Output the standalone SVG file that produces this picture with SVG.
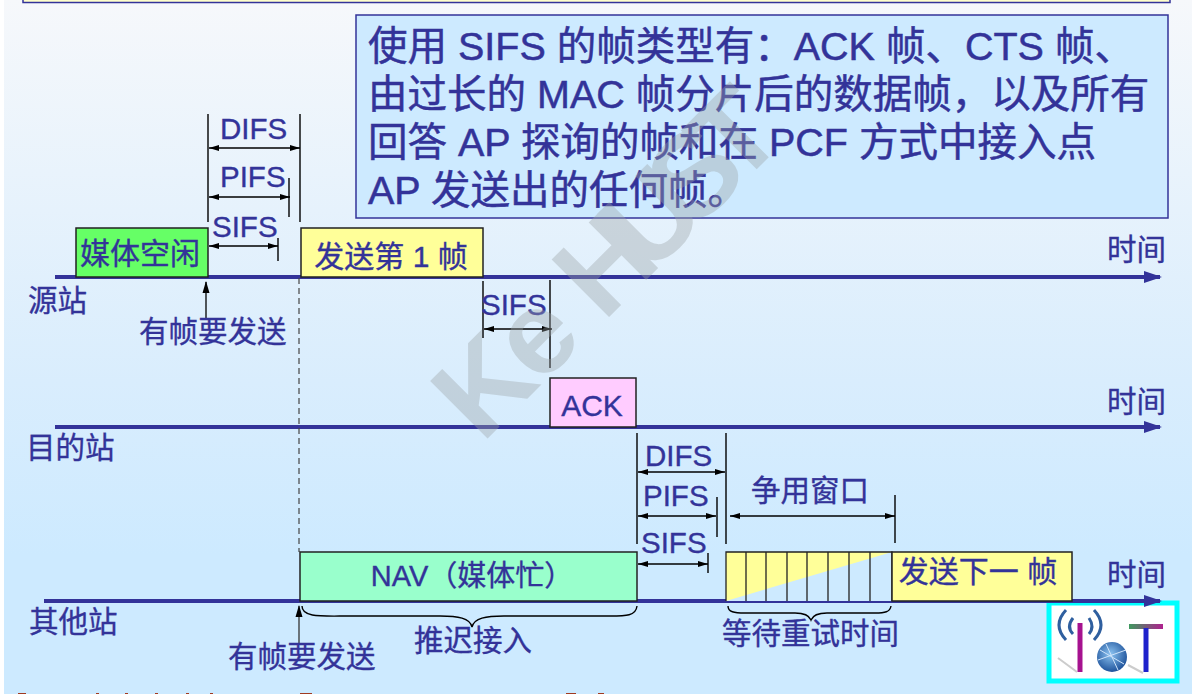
<svg xmlns="http://www.w3.org/2000/svg" width="1192" height="694" viewBox="0 0 1192 694">
<defs>
<linearGradient id="bg" x1="0" y1="0" x2="0" y2="1"><stop offset="0" stop-color="#f6f8fb"/><stop offset="0.55" stop-color="#d9edfd"/><stop offset="0.8" stop-color="#cdeaff"/><stop offset="1" stop-color="#cdeaff"/></linearGradient>
<radialGradient id="globe" cx="0.45" cy="0.4" r="0.65"><stop offset="0" stop-color="#8cc4f2"/><stop offset="1" stop-color="#164a94"/></radialGradient>
<linearGradient id="tbar" x1="0" y1="0" x2="1" y2="0"><stop offset="0" stop-color="#3f9a5f"/><stop offset="1" stop-color="#b0208f"/></linearGradient>
<marker id="ah" viewBox="0 0 10 6" refX="10" refY="3" markerWidth="10" markerHeight="6" markerUnits="userSpaceOnUse" orient="auto-start-reverse"><path d="M0 0L10 3L0 6z" fill="#000"/></marker>
<marker id="ta" viewBox="0 0 18 12" refX="16" refY="6" markerWidth="18" markerHeight="12" markerUnits="userSpaceOnUse" orient="auto"><path d="M0 0L18 6L0 12z" fill="#333399"/></marker>
</defs>
<style>
text{font-family:"Liberation Sans","Noto Sans CJK SC",sans-serif;fill:#333399;font-size:29.500px;stroke:#333399;stroke-width:.35px}
.s{font-size:30px;text-anchor:middle}
.big{font-size:39.500px;stroke-width:.5px}
.axis{stroke:#333399;stroke-width:4;fill:none}
.t{stroke:#000;stroke-width:1.400;fill:none}
.d{stroke:#000;stroke-width:1.300;fill:none;marker-start:url(#ah);marker-end:url(#ah)}
.box{stroke:#222;stroke-width:1.500}
</style>
<rect width="1192" height="694" fill="url(#bg)"/>
<rect x="0" y="0" width="4" height="694" fill="#ffffff"/>
<rect x="23" y="-8" width="1147" height="10.500" fill="#ffffcc" stroke="#333399" stroke-width="1.500"/>
<path d="M18 693.500H26M96 693.500H99M125 693.500H128M155 693.500H158M186 693.500H189M210 693.500H213M300 693.500H312M566 693.500H576M598 693.500H604" stroke="#a03a20" stroke-width="1" fill="none"/>

<g id="note">
<rect x="356" y="15" width="812" height="203" fill="#cdeaff" stroke="#333399" stroke-width="1.500"/>
<text class="big" x="368" y="60">使用 SIFS 的帧类型有：ACK 帧、CTS 帧、</text>
<text class="big" x="368" y="108">由过长的 MAC 帧分片后的数据帧，以及所有</text>
<text class="big" x="368" y="156">回答 AP 探询的帧和在 PCF 方式中接入点</text>
<text class="big" x="368" y="204">AP 发送出的任何帧。</text>
</g>

<g id="logo">
<rect x="1049" y="603" width="128" height="78" fill="#fff" stroke="#00ffff" stroke-width="5"/>
<path d="M1058 658L1077 672M1128 665L1143 673" stroke="#ccc" stroke-width="2" fill="none"/>
<path d="M1080 623V672" stroke="#a6128f" stroke-width="5"/>
<path d="M1066 610Q1052 625 1066 640M1073 618Q1066 627 1073 634M1094 610Q1108 625 1094 640M1089 618Q1095 627 1089 634" stroke="#2f5f9f" stroke-width="3" fill="none"/>
<circle cx="1112" cy="657" r="15" fill="url(#globe)"/>
<path d="M1100 650L1124 664M1106 644L1118 670M1098 660L1126 650" stroke="#cfe4fa" stroke-width="1" fill="none"/>
<rect x="1129" y="624" width="34" height="5" fill="url(#tbar)"/>
<path d="M1146 628V672" stroke="#1f22cc" stroke-width="5"/>
</g>

<g id="connectors">
<path class="axis" marker-end="url(#ta)" d="M55 277H1160"/>
<path class="axis" marker-end="url(#ta)" d="M55 427H1160"/>
<path class="axis" marker-end="url(#ta)" d="M44 601H1160"/>
<path d="M299 278V552" stroke="#444" stroke-width="1.200" stroke-dasharray="6 4" fill="none"/>
<path class="t" d="M208 114V222M300 114V222M289 178V217M278 238V261"/>
<path class="d" d="M209 148H300"/>
<path class="d" d="M209 197H290"/>
<path class="d" d="M209 246H278"/>
<path class="t" d="M483 281V338M550 280V368"/>
<path class="d" d="M484 329H552"/>
<path class="t" d="M637 433V544M726 433V544M717 497V537M708 553V573M895 495V543"/>
<path class="d" d="M638 472H725"/>
<path class="d" d="M638 516H716"/>
<path class="d" d="M638 564H708"/>
<path class="d" d="M730 516H895"/>
<path d="M206 318V282" stroke="#000" stroke-width="1.300" fill="none"/><path d="M206 281l-3.500 12h7z" fill="#000"/>
<path d="M299 644V606" stroke="#333" stroke-width="1.300" fill="none"/><path d="M299 605l-3.500 12h7z" fill="#000"/>
<path class="t" d="M302 606C302 618 322 616 350 616H440C458 616 470 618 472 627C474 618 486 616 504 616H610C626 616 636 616 637 606"/>
<path class="t" d="M728 606C728 612 734 613 745 613H795C804 613 809 615 811 620C813 615 818 613 827 613H875C885 613 890 612 891 606"/>
</g>

<g id="frame-idle"><rect class="box" x="76" y="228" width="132" height="49" fill="#66ff66"/><text class="s" x="140" y="264">媒体空闲</text></g>
<g id="frame-first"><rect class="box" x="301" y="228" width="182" height="49" fill="#ffff99"/><text class="s" x="391" y="267">发送第 1 帧</text></g>
<g id="frame-ack"><rect class="box" x="550" y="378" width="86" height="49" fill="#ffccff"/><text class="s" x="592" y="416">ACK</text></g>
<g id="frame-nav"><rect class="box" x="300" y="552" width="337" height="49" fill="#99ffcc"/><text class="s" x="472" y="586" style="font-size:29px">NAV（媒体忙）</text></g>
<g id="frame-window">
<rect x="726" y="552" width="166" height="49" fill="#cdeaff"/>
<path d="M726 601V552H892z" fill="#ffff99"/>
<path d="M726 601V552H892V601M746 552V601M766 552V601M787 552V601M807 552V601M828 552V601M849 552V601M870 552V601" stroke="#222" stroke-width="1.300" fill="none"/>
</g>
<g id="frame-next"><rect class="box" x="892" y="552" width="180" height="49" fill="#ffff99"/><text class="s" x="978" y="582">发送下一 帧</text></g>

<g id="labels">
<text x="1107" y="260">时间</text>
<text x="1107" y="412">时间</text>
<text x="1107" y="585">时间</text>
<text x="28" y="311">源站</text>
<text x="26" y="458">目的站</text>
<text x="29" y="632">其他站</text>
<text x="139" y="342">有帧要发送</text>
<text x="228" y="667">有帧要发送</text>
<text x="414" y="651">推迟接入</text>
<text x="722" y="644">等待重试时间</text>
<text x="751" y="501">争用窗口</text>
<text x="220" y="139">DIFS</text>
<text x="220" y="187">PIFS</text>
<text x="212" y="237">SIFS</text>
<text x="481" y="315">SIFS</text>
<text x="645" y="466">DIFS</text>
<text x="643" y="506">PIFS</text>
<text x="641" y="553">SIFS</text>
</g>

<g id="watermark" opacity="0.38">
<text x="482" y="444" dx="0 -4 -4 -4 -20 -20 -20" transform="rotate(-45 482 444)" style="font-size:118px;font-weight:bold;fill:#9da5a8;stroke:none">Ke HUST</text>
</g>
</svg>
